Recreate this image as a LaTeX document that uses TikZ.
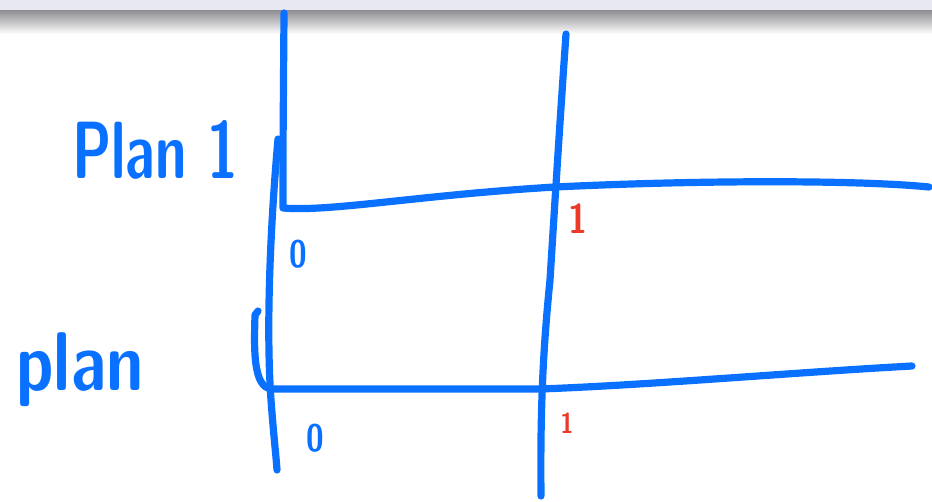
\documentclass[tikz,border=0pt]{standalone}
\usepackage{tikz}

\definecolor{inkblue}{RGB}{10,112,255}
\definecolor{inkred}{RGB}{236,58,40}
\definecolor{barlavender}{RGB}{232,232,242}
\definecolor{barshadow}{RGB}{140,140,145}

\tikzset{every picture/.style={line width=0.75pt}}
\tikzset{
  ink/.style={color=inkblue, line width=5.4, line cap=round, line join=round},
  redink/.style={color=inkred, line width=5, line cap=round, line join=round},
  handtext/.style={text=inkblue, inner sep=0.75pt, font=\sffamily\bfseries},
}

\begin{document}
\begin{tikzpicture}[x=0.75pt,y=0.75pt,yscale=-1,xscale=1]
\path[use as bounding box] (0,0) rectangle (932,501);

% window bar at the top
\fill [barlavender] (0,0) rectangle (932,10);
\shade [top color=barshadow, bottom color=white] (0,10) rectangle (932,34);

%Curve Lines [top left vertical, then row line of Plan 1]
\draw [ink] (284,13) -- (283,150) -- (283,208) .. controls (330,212) and (420,195) .. (555,187) .. controls (700,180) and (860,180) .. (929,187) ;
%Curve Lines [long left vertical]
\draw [ink] (278,139) .. controls (270,230) and (266,330) .. (271,400) .. controls (274,440) and (276,455) .. (277,470) ;
%Curve Lines [hook, then row line of plan]
\draw [ink] (258,311) -- (255,315) .. controls (254,350) and (253,388) .. (272,389) -- (540,389) .. controls (650,385) and (800,372) .. (912,366) ;
%Curve Lines [middle vertical]
\draw [ink] (566,34) .. controls (560,120) and (555,200) .. (550,280) .. controls (544,340) and (540,400) .. (541,496) ;

% Text Node
\node [handtext, xscale=1, yscale=1.45] (planone) at (155,150) {\fontsize{42}{42}\selectfont Plan 1};
% Text Node
\node [handtext, yscale=1.25] (plantwo) at (80,370) {\fontsize{50}{50}\selectfont plan};
% Text Node
\node [handtext, yscale=1.2] (zeroone) at (298,254) {\fontsize{24}{24}\selectfont 0};
% Text Node
\node [handtext, yscale=1.2] (zerotwo) at (315,438) {\fontsize{24}{24}\selectfont 0};
% Text Node
\node [handtext, text=inkred, yscale=1.2] (oneone) at (578,219) {\fontsize{26}{26}\selectfont 1};
% Text Node
\node [handtext, text=inkred, yscale=1.2] (onetwo) at (567,423) {\fontsize{18}{18}\selectfont 1};

\end{tikzpicture}
\end{document}
